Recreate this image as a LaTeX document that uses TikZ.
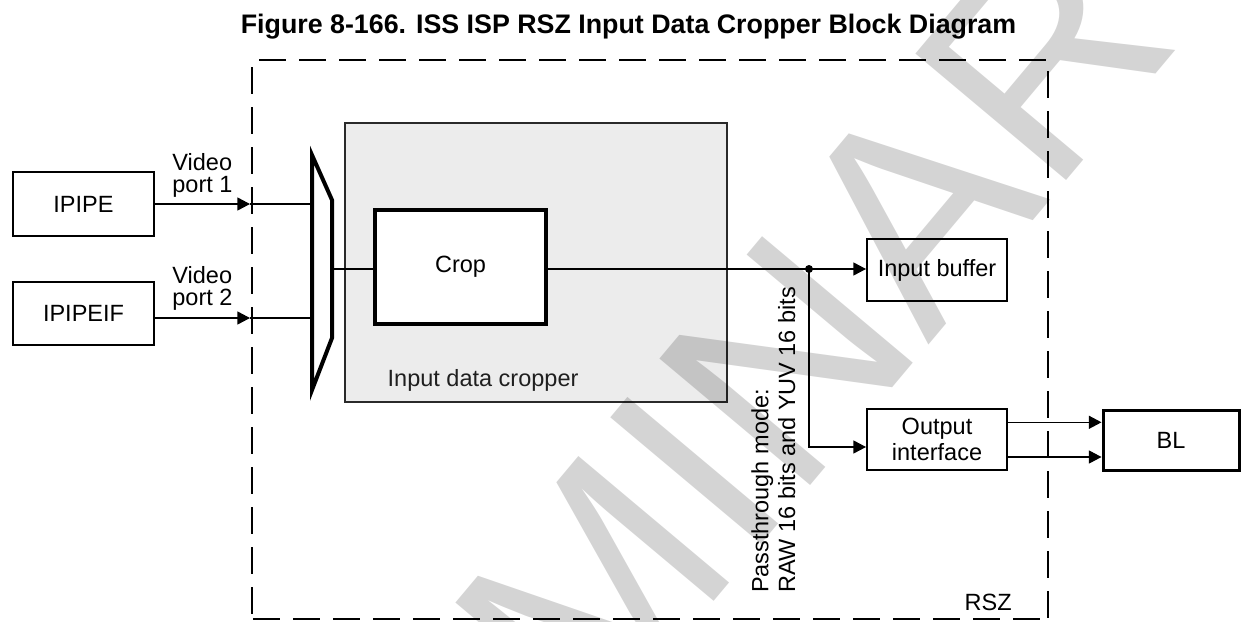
\documentclass[tikz,border=0pt]{standalone}
\usepackage{fontspec}
\setmainfont{Liberation Sans}
\usetikzlibrary{arrows.meta}
\definecolor{cropfill}{HTML}{ECECEC}
\definecolor{cropline}{HTML}{2A2A2A}
\tikzset{
  lbl/.style={inner sep=0pt, font=\fontsize{11.75pt}{13.35pt}\selectfont},
  blk/.style={draw, rectangle, inner sep=0pt, fill=white, font=\fontsize{11.75pt}{13.35pt}\selectfont},
  conn/.style={line width=0.6pt},
  arr/.style={conn, -{Triangle[length=6.3pt,width=6.5pt]}},
  dashedbox/.style={line width=1.25pt, dash pattern=on 13.3pt off 6.7pt},
  wm/.style={inner sep=0pt, rotate=50, text=black, text opacity=0.17, font=\fontsize{143pt}{143pt}\selectfont},
}
\begin{document}
\begin{tikzpicture}[x=0.5pt, y=-0.5pt]
\useasboundingbox (0,0) rectangle (1241,621);

% title
\node[lbl, anchor=base, font=\bfseries\fontsize{13.4pt}{15pt}\selectfont] (title) at (628.5,33)
  {Figure 8-166. ISS ISP RSZ Input Data Cropper Block Diagram};

% RSZ dashed frame
\draw[dashedbox] (259,60) -- (1046,60);
\draw[dashedbox] (1048,71) -- (1048,619);
\draw[dashedbox] (252,67) -- (252,619);
\draw[dashedbox] (253,619) -- (1040,619);
\node[lbl, anchor=base east] (rsz) at (1012,610) {RSZ};

% input blocks
\node[blk, line width=1.4pt, minimum width=70.5pt, minimum height=32pt] (ipipe) at (83.5,204) {IPIPE};
\node[blk, line width=1.4pt, minimum width=70.5pt, minimum height=31.5pt] (ipipeif) at (83.5,313.5) {IPIPEIF};

% video port labels (base anchor = baseline of the last line)
\node[lbl, anchor=base west, align=left, font=\fontsize{11.75pt}{10.7pt}\selectfont] (vp1) at (172,192.3) {Video\\port 1};
\node[lbl, anchor=base west, align=left, font=\fontsize{11.75pt}{10.7pt}\selectfont] (vp2) at (172,305) {Video\\port 2};

% cropper
\node[draw=cropline, fill=cropfill, line width=1pt, minimum width=191pt, minimum height=139.5pt, inner sep=0pt] (cropper) at (536,262.5) {};
\node[lbl, anchor=base west, text=black!88] (croplbl) at (387.3,386) {Input data cropper};
\node[blk, line width=2pt, minimum width=85.5pt, minimum height=57pt] (crop) at (460.5,267) {Crop};

% mux
\draw[line width=2pt, line join=miter, miter limit=10] (312,155) -- (332,200) -- (332,338) -- (312,390) -- cycle;
\coordinate (mi1) at (312,204);
\coordinate (mi2) at (312,318);
\coordinate (mo) at (332,269);
\coordinate (p1) at (250,204);
\coordinate (p2) at (250,318);

% right blocks
\node[blk, line width=1pt, minimum width=70pt, minimum height=31pt] (inbuf) at (937,270) {Input buffer};
\node[blk, line width=1pt, minimum width=70pt, minimum height=30.5pt, align=center] (outif) at (937,439.5) {Output\\interface};
\node[blk, line width=1.5pt, minimum width=68pt, minimum height=30pt] (bl) at (1171,440) {BL};

% connectors
\draw[arr] (ipipe.east) -- (p1);
\draw[conn] (p1) -- (mi1);
\draw[arr] (ipipeif.east |- p2) -- (p2);
\draw[conn] (p2) -- (mi2);
\draw[conn] (mo) -- (mo -| crop.west);
\coordinate (j) at (809,269);
\draw[conn] (crop.east |- j) -- (j);
\draw[arr] (j) -- (j -| inbuf.west);
\draw[arr] (j) |- ([yshift=-3.75pt]outif.west);
\fill (j) circle (2pt);
\draw[arr] ([yshift=8.6pt]outif.east) -- ([yshift=8.6pt]outif.east -| bl.west);
\draw[arr] ([yshift=-8.75pt]outif.east) -- ([yshift=-8.75pt]outif.east -| bl.west);

% passthrough label (base anchor = baseline of the last line)
\node[lbl, rotate=90, anchor=base west, align=left] (pass) at (795,593.3) {Passthrough mode:\\RAW 16 bits and YUV 16 bits};

% watermark (only the letters that fall inside the picture)
\begin{scope}
\clip (0,0) rectangle (1241,621);
\node[wm, anchor=base] (wmA) at (990,272) {A};
\node[wm, anchor=base east] (wmL) at (wmA.base west) {MIN};
\node[wm, anchor=base west] (wmR) at (wmA.base east) {R};
\end{scope}
\end{tikzpicture}
\end{document}
